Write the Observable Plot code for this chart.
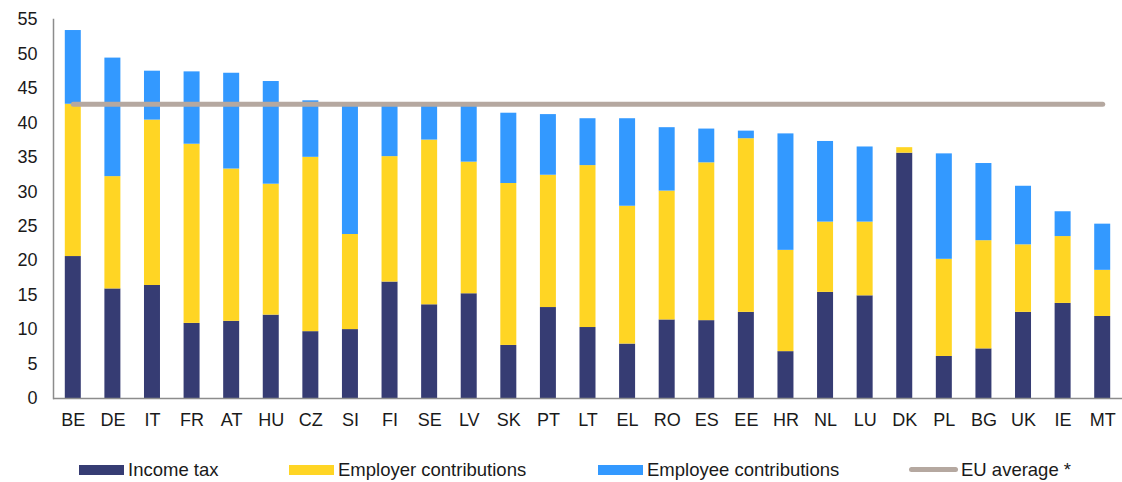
<!DOCTYPE html>
<html>
<head>
<meta charset="utf-8">
<script src="https://cdn.jsdelivr.net/npm/d3@7"></script>
<script src="https://cdn.jsdelivr.net/npm/@observablehq/plot@0.6"></script>
<style>
  html, body { margin: 0; padding: 0; background: #fff; }
  body { width: 1122px; height: 482px; overflow: hidden; font-family: Arial, "Liberation Sans", sans-serif; }
  #chart svg { display: block; }
  #legend { position: relative; height: 37px; width: 1122px; font-size: 18.5px; color: #1a1a1a; }
  .item { position: absolute; top: 6px; height: 37px; display: flex; align-items: center; white-space: nowrap; }
  .sw { width: 45px; height: 10px; margin-right: 4px; }
  .ln { width: 49px; height: 5px; border-radius: 3px; margin-right: 3px; }
</style>
</head>
<body>
<div id="chart"></div>
<div id="legend"></div>
<script>
const countries = ["BE","DE","IT","FR","AT","HU","CZ","SI","FI","SE","LV","SK","PT","LT","EL","RO","ES","EE","HR","NL","LU","DK","PL","BG","UK","IE","MT"];
const incomeTax = [20.6,15.9,16.4,10.9,11.2,12.1,9.7,10.0,16.9,13.6,15.2,7.7,13.2,10.3,7.9,11.4,11.3,12.5,6.8,15.4,14.9,35.6,6.1,7.2,12.5,13.8,11.9];
const employer  = [22.1,16.3,24.0,26.0,22.1,19.0,25.3,13.8,18.2,23.9,19.1,23.5,19.2,23.5,20.0,18.7,22.9,25.2,14.7,10.2,10.7,0.8,14.1,15.7,9.8,9.7,6.7];
const employee  = [10.7,17.2,7.1,10.5,13.9,14.9,8.2,18.8,7.5,5.1,8.3,10.2,8.8,6.8,12.7,9.2,4.9,1.1,16.9,11.7,10.9,0.0,15.3,11.2,8.5,3.6,6.7];
const euAverage = 42.7;
const seriesNames = ["Income tax","Employer contributions","Employee contributions"];
const seriesColors = ["#363C73","#FFD524","#3399FF"];
const lineName = "EU average *";
const lineColor = "#B5A8A0";
const yTicks = [0,5,10,15,20,25,30,35,40,45,50,55];

const seriesValues = [incomeTax, employer, employee];
const rows = [];
countries.forEach((c, i) => {
  seriesNames.forEach((s, j) => rows.push({country: c, series: s, value: seriesValues[j][i]}));
});
const lineRows = countries.map(c => ({country: c, value: euAverage}));

const chart = Plot.plot({
  width: 1122,
  height: 445,
  marginLeft: 53,
  marginRight: 0,
  marginTop: 19,
  marginBottom: 47,
  style: {fontFamily: "Arial, 'Liberation Sans', sans-serif", fontSize: "18px", color: "#1a1a1a", background: "#fff"},
  x: {domain: countries, paddingInner: 0.596, paddingOuter: 0.298, round: false, label: null},
  y: {domain: [0, 55], label: null},
  color: {domain: seriesNames, range: seriesColors},
  marks: [
    Plot.barY(rows, {x: "country", y: "value", fill: "series", order: seriesNames}),
    Plot.ruleY([0], {stroke: "#8C8C8C", strokeWidth: 1.5}),
    Plot.frame({anchor: "left", stroke: "#8C8C8C", strokeWidth: 1.5}),
    Plot.lineY(lineRows, {x: "country", y: "value", stroke: lineColor, strokeWidth: 5, strokeLinecap: "round"}),
    Plot.axisX({tickSize: 0, tickPadding: 15, fontSize: 18, label: null}),
    Plot.axisY({ticks: yTicks, tickSize: 0, tickPadding: 16, fontSize: 18, label: null})
  ]
});
document.getElementById("chart").appendChild(chart);

const legend = document.getElementById("legend");
const lefts = [79, 289, 598, 909];
seriesNames.forEach((s, j) => {
  const it = document.createElement("div");
  it.className = "item";
  it.style.left = lefts[j] + "px";
  it.innerHTML = `<span class="sw" style="background:${seriesColors[j]}"></span><span>${s}</span>`;
  legend.appendChild(it);
});
const li = document.createElement("div");
li.className = "item";
li.style.left = lefts[3] + "px";
li.innerHTML = `<span class="ln" style="background:${lineColor}"></span><span>${lineName}</span>`;
legend.appendChild(li);
</script>
</body>
</html>
